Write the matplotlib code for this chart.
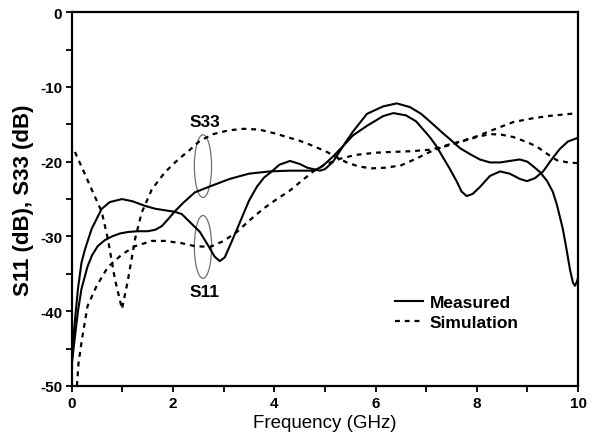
import matplotlib
matplotlib.use("Agg")
import matplotlib.pyplot as plt
from matplotlib.patches import Ellipse
from matplotlib.ticker import MultipleLocator

plt.rcParams['font.family'] = ['Liberation Sans', 'DejaVu Sans']
plt.rcParams['axes.unicode_minus'] = False

# Measured S11 (solid)
s11_meas_f = [0.0, 0.05, 0.12, 0.19, 0.26, 0.39, 0.5, 0.59, 0.75, 0.99, 1.2, 1.44, 1.65, 1.84,
              2.03, 2.17, 2.35, 2.53, 2.7, 2.82, 2.92, 3.02, 3.15, 3.32, 3.5, 3.66, 3.8, 3.95,
              4.1, 4.31, 4.5, 4.65, 4.77, 4.9, 5.0, 5.16, 5.36, 5.55, 5.83, 6.15, 6.42, 6.68,
              6.9, 7.07, 7.3, 7.47, 7.67, 7.87, 8.06, 8.26, 8.46, 8.65, 8.85, 9.0, 9.11, 9.25,
              9.39, 9.5, 9.58, 9.7, 9.78, 9.84, 9.9, 9.94, 9.98, 10.0]
s11_meas_db = [-46.5, -42.0, -37.0, -33.5, -31.7, -29.0, -27.5, -26.3, -25.4, -25.0, -25.3, -25.9,
               -26.3, -26.5, -26.7, -27.0, -28.2, -29.4, -31.3, -32.7, -33.3, -32.8, -30.8, -28.1,
               -25.2, -23.3, -22.1, -21.3, -20.4, -19.9, -20.3, -20.8, -21.0, -21.2, -21.0, -20.0,
               -17.9, -16.0, -13.6, -12.6, -12.2, -12.7, -13.6, -14.6, -16.0, -17.0, -18.2, -19.0,
               -19.7, -20.1, -20.1, -19.9, -19.7, -20.0, -20.6, -21.4, -22.6, -24.0, -25.7, -29.0,
               -32.0, -34.4, -36.2, -36.6, -36.0, -35.5]

# Measured S33 (solid)
s33_meas_f = [0.0, 0.05, 0.12, 0.19, 0.31, 0.4, 0.51, 0.65, 0.79, 0.95, 1.11, 1.3, 1.5, 1.65,
              1.78, 1.9, 2.04, 2.2, 2.43, 2.73, 3.12, 3.5, 3.91, 4.3, 4.6, 4.77, 4.9, 5.0, 5.16,
              5.36, 5.55, 5.83, 6.15, 6.35, 6.6, 6.8, 7.07, 7.2, 7.33, 7.47, 7.6, 7.7, 7.8, 7.92,
              8.06, 8.26, 8.46, 8.65, 8.85, 8.99, 9.15, 9.31, 9.5, 9.64, 9.8, 10.0]
s33_meas_db = [-47.0, -44.0, -40.0, -37.0, -34.0, -32.5, -31.3, -30.5, -30.0, -29.6, -29.4, -29.3,
               -29.3, -29.1, -28.6, -27.7, -26.6, -25.5, -24.1, -23.3, -22.3, -21.6, -21.3, -21.2,
               -21.2, -21.2, -20.8, -20.3, -19.3, -17.9, -16.5, -15.2, -13.9, -13.5, -13.8, -14.6,
               -16.7, -17.9, -19.4, -21.0, -22.6, -24.0, -24.6, -24.3, -23.4, -21.9, -21.3, -21.6,
               -22.3, -22.6, -22.2, -21.3, -19.5, -18.3, -17.3, -16.8]

# Simulation (dashed) - curve with deep notch near 1 GHz
sim_a_f = [0.06, 0.2, 0.39, 0.59, 0.71, 0.85, 0.99, 1.1, 1.25, 1.38, 1.58, 1.84, 2.1, 2.3, 2.53,
           2.8, 3.1, 3.4, 3.7, 4.0, 4.3, 4.5, 4.77, 5.04, 5.2, 5.43, 5.65, 5.9, 6.2, 6.5, 6.8,
           7.07, 7.4, 7.67, 8.0, 8.26, 8.72, 9.1, 9.4, 9.7, 10.0]
sim_a_db = [-18.7, -20.8, -23.7, -26.7, -30.3, -35.7, -39.7, -36.1, -30.3, -26.8, -23.7, -21.4,
            -19.7, -18.6, -17.2, -16.3, -15.8, -15.6, -15.7, -16.2, -16.8, -17.2, -17.9, -18.7,
            -19.3, -20.1, -20.6, -20.9, -20.8, -20.5, -19.6, -18.7, -17.8, -17.3, -16.6, -15.9,
            -14.7, -14.2, -13.9, -13.7, -13.5]

# Simulation (dashed) - curve rising from -50 dB
sim_b_f = [0.1, 0.13, 0.2, 0.31, 0.49, 0.71, 0.99, 1.25, 1.58, 1.84, 2.17, 2.43, 2.73, 3.0, 3.26,
           3.5, 3.78, 4.05, 4.3, 4.55, 4.77, 5.0, 5.3, 5.6, 6.0, 6.3, 6.7, 7.07, 7.4, 7.7, 8.0,
           8.26, 8.5, 8.72, 9.0, 9.19, 9.4, 9.58, 9.8, 10.0]
sim_b_db = [-50.0, -47.0, -43.7, -39.3, -36.6, -34.1, -32.4, -31.3, -30.6, -30.6, -30.9, -31.3,
            -31.4, -30.6, -29.4, -27.9, -26.3, -25.0, -23.9, -22.5, -21.3, -20.4, -19.6, -19.1,
            -18.8, -18.7, -18.6, -18.4, -17.9, -17.3, -16.7, -16.3, -16.4, -16.7, -17.4, -18.0,
            -19.0, -19.8, -20.1, -20.2]

fig = plt.figure(figsize=(5.99, 4.39), dpi=100)
ax = fig.add_axes([0.120, 0.1185, 0.845, 0.8515])

dash = (0, (2.2, 2.2))
ax.plot(s11_meas_f, s11_meas_db, color='black', lw=1.5, label='Measured')
ax.plot(s33_meas_f, s33_meas_db, color='black', lw=1.5)
ax.plot(sim_a_f, sim_a_db, color='black', lw=1.6, linestyle=dash, label='Simulation')
ax.plot(sim_b_f, sim_b_db, color='black', lw=1.6, linestyle=dash)

# annotation ellipses
ax.add_patch(Ellipse((2.59, -20.6), 0.34, 8.4, fill=False, edgecolor='#707070', lw=0.9))
ax.add_patch(Ellipse((2.59, -31.4), 0.34, 8.4, fill=False, edgecolor='#707070', lw=0.9))
ax.text(2.62, -14.6, 'S33', ha='center', va='center', fontsize=12.5, fontweight='bold')
ax.text(2.62, -37.4, 'S11', ha='center', va='center', fontsize=12.5, fontweight='bold')

ax.set_xlim(0, 10)
ax.set_ylim(-50, 0)
ax.xaxis.set_major_locator(MultipleLocator(2))
ax.xaxis.set_minor_locator(MultipleLocator(1))
ax.yaxis.set_major_locator(MultipleLocator(10))
ax.yaxis.set_minor_locator(MultipleLocator(5))
ax.tick_params(which='both', direction='out', length=4.5, width=1.3, pad=2.5)
for lab in ax.get_xticklabels() + ax.get_yticklabels():
    lab.set_fontweight('bold')
    lab.set_fontsize(11)
for sp in ax.spines.values():
    sp.set_linewidth(1.6)

ax.set_xlabel('Frequency (GHz)', fontsize=13.5, labelpad=3)
ax.set_ylabel('S11 (dB), S33 (dB)', fontsize=16, fontweight='bold', labelpad=4)

leg = ax.legend(loc='upper left', bbox_to_anchor=(0.638, 0.243), frameon=False,
                prop={'weight': 'bold', 'size': 12.5}, handlelength=1.6, handletextpad=0.4,
                labelspacing=0.25, borderpad=0, borderaxespad=0)

fig.savefig('out.png', dpi=100)
